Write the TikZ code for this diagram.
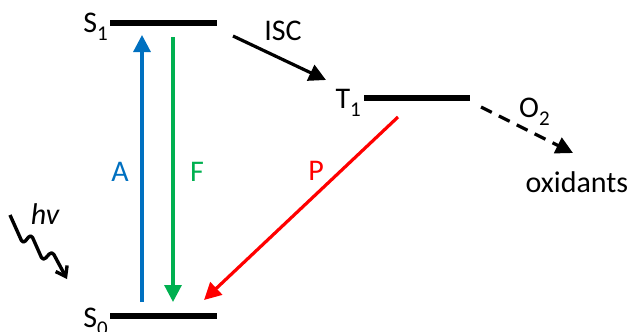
\documentclass[tikz,border=0pt]{standalone}
\usepackage{fontspec}
\setmainfont{Carlito}
\usetikzlibrary{arrows.meta}
\definecolor{ablue}{RGB}{0,112,192}
\definecolor{fgreen}{RGB}{0,176,80}
\definecolor{pred}{RGB}{255,0,0}
\newcommand{\lsub}[1]{\raisebox{-0.28em}{\fontsize{21}{21}\selectfont #1}}
\begin{document}
\begin{tikzpicture}[x=1pt,y=-1pt,
  level/.style={line width=6pt},
  lbl/.style={font=\fontsize{30}{34}\selectfont, inner sep=0pt},
  trans/.style={line width=3.2pt,-{Triangle[length=17pt,width=17pt]}}]
\useasboundingbox (0,0) rectangle (633,332);
% levels
\coordinate (s1a) at (110,23); \coordinate (s1b) at (217,23);
\coordinate (s0a) at (110,316); \coordinate (s0b) at (217,316);
\coordinate (t1a) at (364,98); \coordinate (t1b) at (470,98);
\draw[level] (s1a) -- (s1b);
\draw[level] (s0a) -- (s0b);
\draw[level] (t1a) -- (t1b);
\node[lbl, anchor=base east] (S1) at (108,32) {S\lsub{1}};
\node[lbl, anchor=base east] (S0) at (108,327) {S\lsub{0}};
\node[lbl, anchor=base east] (T1) at (361,108) {T\lsub{1}};
% transitions
\coordinate (a0) at (142,302); \coordinate (a1) at (142,35);
\coordinate (f0) at (173,37); \coordinate (f1) at (173,302);
\coordinate (i0) at (233,36); \coordinate (i1) at (326,80);
\coordinate (p0) at (398,117); \coordinate (p1) at (204,300);
\coordinate (o0) at (481,107); \coordinate (o1) at (573,153);
\draw[trans, ablue] (a0) -- (a1);
\draw[trans, fgreen] (f0) -- (f1);
\draw[trans, black] (i0) -- (i1);
\draw[trans, pred] (p0) -- (p1);
\draw[trans, black, dash pattern=on 12pt off 8pt] (o0) -- (o1);
\node[lbl, text=ablue, anchor=base] (A) at (120,181) {A};
\node[lbl, text=fgreen, anchor=base] (F) at (197,181) {F};
\node[lbl, text=pred, anchor=base] (P) at (316,180) {P};
\node[lbl, anchor=base] (ISC) at (283,41) {ISC};
\node[lbl, anchor=base west] (O2) at (519,117) {O\lsub{2}};
\node[lbl, anchor=base] (ox) at (577,192) {oxidants};
\node[lbl, anchor=base] (hv) at (45,224) {\itshape hv};
% photon
\coordinate (w0) at (10,215);
\coordinate (w6) at (67,279);
\draw[line width=3.4pt, line join=round, rounded corners=4pt,
  -{Straight Barb[length=9pt,width=13pt]}]
  (w0) -- (23,244) -- (31,234) -- (43,261) -- (52,251) -- (w6);
\end{tikzpicture}
\end{document}
